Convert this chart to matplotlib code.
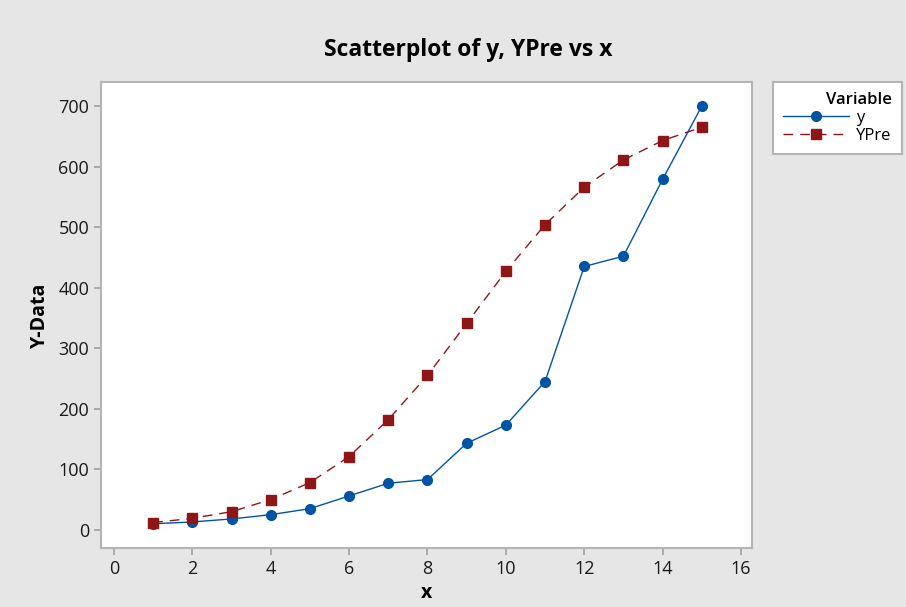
import matplotlib
matplotlib.use('Agg')
import matplotlib.pyplot as plt

plt.rcParams['font.family'] = ['Open Sans', 'DejaVu Sans']

x = [1, 2, 3, 4, 5, 6, 7, 8, 9, 10, 11, 12, 13, 14, 15]
y = [10, 13, 18, 25, 35, 56, 77, 83, 143, 173, 245, 435, 452, 579, 700]
ypre = [12, 19, 30, 50, 78, 121, 182, 255, 341, 427, 504, 566, 611, 643, 665]

xticks = [0, 2, 4, 6, 8, 10, 12, 14, 16]
yticks = [0, 100, 200, 300, 400, 500, 600, 700]

bg = '#e6e6e6'
blue = '#0054a6'
red = '#8e1616'

fig = plt.figure(figsize=(9.06, 6.07), dpi=100, facecolor=bg)
ax = fig.add_axes([0.1115, 0.0972, 0.7185, 0.768])

ax.plot(x, y, color=blue, lw=1.0, marker='o', ms=7, label='y')
ax.plot(x, ypre, color=red, lw=1.0, ls=(0, (7, 5)), marker='s', ms=7, label='YPre')

ax.set_xlim(-0.33, 16.28)
ax.set_ylim(-30, 740)
ax.set_xticks(xticks)
ax.set_yticks(yticks)
ax.tick_params(colors='#a0a0a0', labelcolor='#1a1a1a', labelsize=13, length=5, width=1.2)
for s in ax.spines.values():
    s.set_color('#b4b4b4')
    s.set_linewidth(1.5)

fig.text(0.5166, 1 - 50 / 607, 'Scatterplot of y, YPre vs x', fontsize=16.5,
         fontweight='bold', ha='center', va='center')
ax.set_xlabel('x', fontsize=14, fontweight='bold', labelpad=4)
ax.set_ylabel('Y-Data', fontsize=14, fontweight='bold', labelpad=6)

leg = ax.legend(title='Variable', loc='upper left', bbox_to_anchor=(1.032, 1.0),
                fontsize=12, title_fontsize=12, frameon=True, fancybox=False,
                facecolor='white', framealpha=1, edgecolor='#b4b4b4',
                handlelength=4.0, borderpad=0.6, labelspacing=0.12,
                handletextpad=0.4, alignment='right', borderaxespad=0)
leg.get_frame().set_linewidth(1.5)
leg.get_title().set_fontweight('semibold')

fig.savefig('out.png', dpi=100, facecolor=bg)
